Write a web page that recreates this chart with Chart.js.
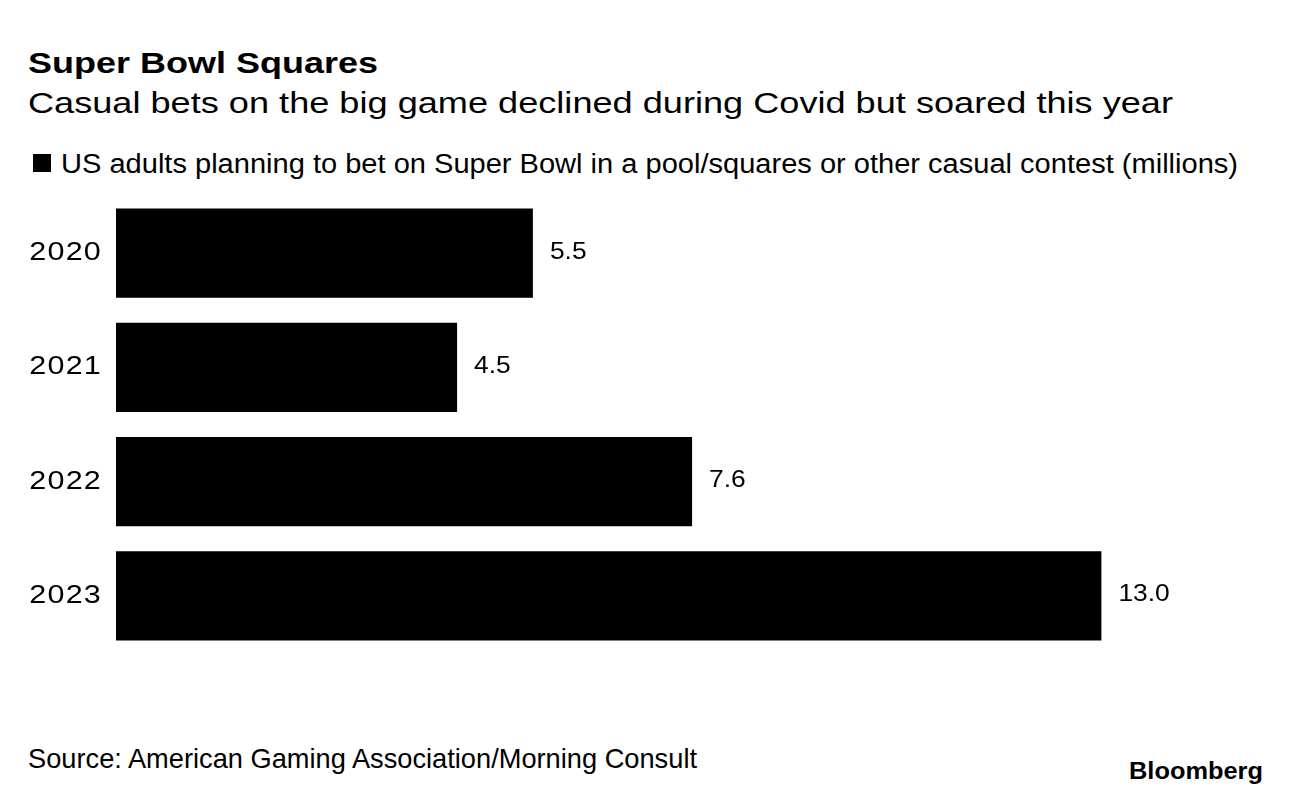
<html>
    <head>
        <meta charset="utf-8">
        <title>Super Bowl Squares</title>
        <script src="https://cdn.jsdelivr.net/npm/chart.js@4/dist/chart.umd.min.js"></script>
        <style type="text/css">
            body {
                margin: 0;
                width: 1296px;
                height: 800px;
                background: #fff;
                font-family: "Liberation Sans", Arial, sans-serif;
                color: #000;
                position: relative;
                overflow: hidden;
            }
            .txt {
                position: absolute;
                white-space: nowrap;
                display: inline-block;
                line-height: normal;
                transform-origin: left top;
            }
            #title { left: 28px; top: 46px; font-size: 30px; font-weight: bold; }
            #subtitle { left: 28px; top: 86px; font-size: 30px; }
            #legendText { left: 61px; top: 149px; font-size: 27px; }
            .box {
                position: absolute; left: 33px; top: 154px;
                width: 18px; height: 18px; background: #000;
            }
            #wrap {
                position: absolute; left: 0; top: 196px;
                width: 1296px; height: 457px;
            }
            #source { left: 28px; top: 743px; font-size: 28px; }
            #logo { left: 1129px; top: 757px; font-size: 24px; font-weight: bold; }
        </style>
    </head>
    <body>
        <div class="txt" id="title">Super Bowl Squares</div>
        <div class="txt" id="subtitle">Casual bets on the big game declined during Covid but soared this year</div>
        <div class="box"></div>
        <div class="txt" id="legendText">US adults planning to bet on Super Bowl in a pool/squares or other casual contest (millions)</div>
        <div id="wrap"><canvas id="chart"></canvas></div>
        <div class="txt" id="source">Source: American Gaming Association/Morning Consult</div>
        <div class="txt" id="logo">Bloomberg</div>
        <script>
            var years = ["2020", "2021", "2022", "2023"];
            var bettors = [5.5, 4.5, 7.6, 13.0];
            var valueText = ["5.5", "4.5", "7.6", "13.0"];

            // stretch html text to the widths seen in the original
            function fit(id, w) {
                var el = document.getElementById(id);
                var r = el.getBoundingClientRect().width;
                el.style.transform = 'scaleX(' + (w / r) + ')';
            }
            fit('title', 350);
            fit('subtitle', 1145);
            fit('legendText', 1177);
            fit('source', 669);
            fit('logo', 134);

            // year labels on the left and value labels at bar ends
            var barText = {
                id: 'barText',
                afterDatasetsDraw: function(chart) {
                    var ctx = chart.ctx;
                    var yScale = chart.scales.y;
                    var meta = chart.getDatasetMeta(0);
                    ctx.save();
                    ctx.fillStyle = '#000';
                    ctx.textBaseline = 'alphabetic';

                    ctx.font = '25px "Liberation Sans", Arial, sans-serif';
                    ctx.letterSpacing = '1px';
                    ctx.textAlign = 'right';
                    years.forEach(function(y, i) {
                        ctx.save();
                        ctx.translate(102, yScale.getPixelForValue(i) + 7);
                        ctx.scale(1.22, 1);
                        ctx.fillText(y, 0, 0);
                        ctx.restore();
                    });

                    ctx.font = '24px "Liberation Sans", Arial, sans-serif';
                    ctx.letterSpacing = '0px';
                    ctx.textAlign = 'left';
                    meta.data.forEach(function(bar, i) {
                        ctx.save();
                        ctx.translate(bar.x + 17, bar.y + 5.5);
                        ctx.scale(1.1, 1);
                        ctx.fillText(valueText[i], 0, 0);
                        ctx.restore();
                    });
                    ctx.restore();
                }
            };

            var ctx = document.getElementById("chart").getContext('2d');
            var chart = new Chart(ctx, {
                type: "bar",
                data: {
                    labels: years,
                    datasets: [{
                        label: 'US adults planning to bet',
                        data: bettors,
                        backgroundColor: '#000',
                        borderWidth: 0,
                        barPercentage: 0.78,
                        categoryPercentage: 1.0
                    }]
                },
                options: {
                    indexAxis: 'y',
                    responsive: true,
                    maintainAspectRatio: false,
                    animation: false,
                    layout: { padding: { top: 0, bottom: 0, left: 0, right: 43 } },
                    plugins: {
                        legend: { display: false },
                        tooltip: { enabled: false }
                    },
                    scales: {
                        x: {
                            display: false,
                            min: 0,
                            max: 15
                        },
                        y: {
                            grid: { display: false, drawTicks: false },
                            border: { display: false },
                            ticks: { display: false },
                            afterFit: function(scale) { scale.width = 116; }
                        }
                    }
                },
                plugins: [barText]
            });
        </script>
    </body>
</html>
